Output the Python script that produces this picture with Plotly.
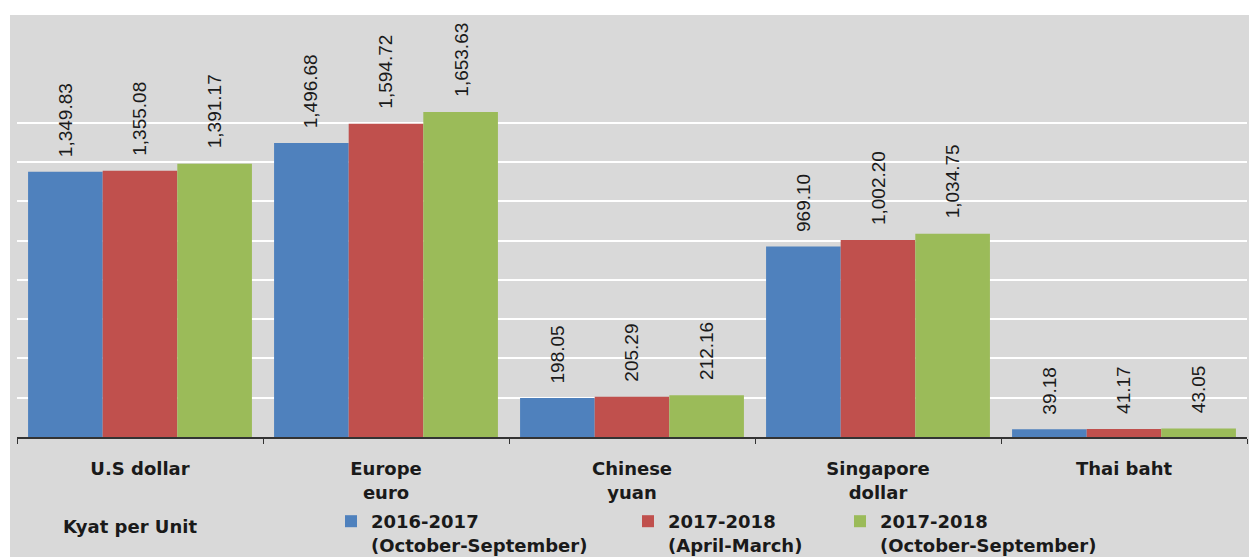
import plotly.graph_objects as go

# ---- data ----
categories = ["U.S dollar", "Europe<br>euro", "Chinese<br>yuan", "Singapore<br>dollar", "Thai baht"]
series_names = [
    "2016-2017<br>(October-September)",
    "2017-2018<br>(April-March)",
    "2017-2018<br>(October-September)",
]
values_2016_17_oct_sep = [1349.83, 1496.68, 198.05, 969.10, 39.18]
values_2017_18_apr_mar = [1355.08, 1594.72, 205.29, 1002.20, 41.17]
values_2017_18_oct_sep = [1391.17, 1653.63, 212.16, 1034.75, 43.05]
series_values = [values_2016_17_oct_sep, values_2017_18_apr_mar, values_2017_18_oct_sep]
grid_values = [200, 400, 600, 800, 1000, 1200, 1400, 1600]
unit_label = "Kyat per Unit"

# ---- style ----
colors = ["#4f81bd", "#c0504d", "#9bbb59"]
bg_gray = "#d9d9d9"
text_color = "#1a1a1a"
label_font = "DejaVu Sans"
value_font = "Liberation Sans, Arial"

W, H = 1249, 557
ml, mr, mt, mb = 17, 2, 44, 120
pw, ph = W - ml - mr, H - mt - mb


def px_x(px):
    return (px - ml) / pw


def px_y(py):
    return (H - mb - py) / ph


bargap = 0.09
n_series = len(series_values)
bar_w = (1 - bargap) / n_series

fig = go.Figure()
legend_ids = ["legend", "legend2", "legend3"]
for j, (name, vals) in enumerate(zip(series_names, series_values)):
    fig.add_trace(go.Bar(
        x=categories, y=vals, name=name,
        marker=dict(color=colors[j], line=dict(width=0)),
        legend=legend_ids[j],
    ))

# value labels (rotated), positioned through the axis scales
annotations = []
for j, vals in enumerate(series_values):
    for i, v in enumerate(vals):
        annotations.append(dict(
            x=i + (j - (n_series - 1) / 2) * bar_w, y=v, xref="x", yref="y",
            text=f"{v:,.2f}", showarrow=False, textangle=-90,
            xanchor="center", yanchor="bottom", yshift=13,
            font=dict(family=value_font, size=19, color=text_color),
        ))

annotations.append(dict(
    x=px_x(130), y=px_y(526), xref="paper", yref="paper",
    text=f"<b>{unit_label}</b>", showarrow=False,
    xanchor="center", yanchor="middle",
    font=dict(family=label_font, size=18, color=text_color),
))

legend_common = dict(
    orientation="v", xanchor="left", yanchor="top", valign="top",
    bgcolor="rgba(0,0,0,0)", borderwidth=0,
    font=dict(family=label_font, size=18, color=text_color, weight="bold"),
    itemclick=False, itemdoubleclick=False,
)
legend_px_x = [331, 628, 840]
legend_top_y = 503

fig.update_layout(
    width=W, height=H,
    margin=dict(l=ml, r=mr, t=mt, b=mb, pad=0, autoexpand=False),
    paper_bgcolor="white",
    plot_bgcolor="rgba(0,0,0,0)",
    barmode="group", bargap=bargap, bargroupgap=0,
    showlegend=True,
    legend=dict(x=px_x(legend_px_x[0]), y=px_y(legend_top_y), **legend_common),
    legend2=dict(x=px_x(legend_px_x[1]), y=px_y(legend_top_y), **legend_common),
    legend3=dict(x=px_x(legend_px_x[2]), y=px_y(legend_top_y), **legend_common),
    xaxis=dict(
        type="category", showline=True, linecolor="#333333", linewidth=1.5,
        ticks="outside", tickson="boundaries", ticklen=5, tickcolor="#333333", tickwidth=1.2,
        tickfont=dict(family=label_font, size=18, color=text_color, weight="bold"),
        ticklabelstandoff=15, showgrid=False, zeroline=False, automargin=False,
    ),
    yaxis=dict(
        range=[0, 2000], tickvals=grid_values, showticklabels=False,
        showgrid=True, gridcolor="white", gridwidth=1.6,
        zeroline=False, showline=False, ticks="", automargin=False,
    ),
    annotations=annotations,
    shapes=[dict(
        type="rect", xref="paper", yref="paper", layer="below",
        x0=px_x(10), x1=px_x(W + 5), y0=px_y(H + 5), y1=px_y(15),
        fillcolor=bg_gray, line=dict(width=0),
    )],
)

fig.write_html(
    "out.html",
    config={"displayModeBar": False},
    post_script="document.body.style.margin='0px';",
)
